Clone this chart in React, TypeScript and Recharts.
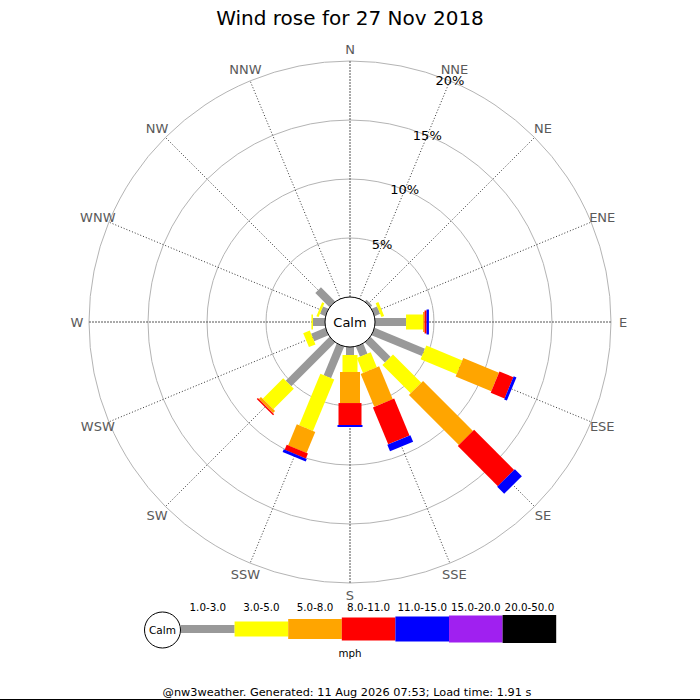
import React from 'react';
import { RadarChart, Radar, PolarGrid, PolarAngleAxis, PolarRadiusAxis } from 'recharts';

// ---- data ----
const directions = ['N', 'NNE', 'NE', 'ENE', 'E', 'ESE', 'SE', 'SSE', 'S', 'SSW', 'SW', 'WSW', 'W', 'WNW', 'NW', 'NNW'];
const speedBins = ['1.0-3.0', '3.0-5.0', '5.0-8.0', '8.0-11.0', '11.0-15.0', '15.0-20.0', '20.0-50.0'];
const binColors = ['#999999', '#ffff00', '#ffa500', '#ff0000', '#0000ff', '#a020f0', '#000000'];

// percentage of time per direction for each speed bin (mph)
const pct1to3 = [0, 0, 0.2, 0.5, 2.63, 4.62, 2.4, 0.93, 0.68, 2.9, 5.25, 1.31, 1.02, 0.5, 1.7, 0];
const pct3to5 = [0, 0, 0, 0.25, 1.44, 3.3, 3.39, 1.36, 1.44, 4.72, 2.46, 0.6, 0.13, 0.2, 0, 0];
const pct5to8 = [0, 0, 0, 0, 0.13, 3.27, 5.99, 3.02, 2.63, 1.93, 0.24, 0, 0, 0, 0, 0];
const pct8to11 = [0, 0, 0, 0, 0.17, 1.27, 4.8, 3.39, 1.86, 0.45, 0.13, 0, 0, 0, 0, 0];
const pct11to15 = [0, 0, 0, 0, 0.2, 0.25, 0.84, 0.6, 0.17, 0.24, 0, 0, 0, 0, 0, 0];
const pct15to20 = [0, 0, 0, 0, 0, 0, 0, 0, 0, 0, 0, 0, 0, 0, 0, 0];
const pct20to50 = [0, 0, 0, 0, 0, 0, 0, 0, 0, 0, 0, 0, 0, 0, 0, 0];
const binSeries = [pct1to3, pct3to5, pct5to8, pct8to11, pct11to15, pct15to20, pct20to50];

const radiusTicks = [5, 10, 15, 20];
const radiusDomain = [0, 20];

const titleText = 'Wind rose for 27 Nov 2018';
const unitText = 'mph';
const calmText = 'Calm';
const footerText = '@nw3weather. Generated: 11 Aug 2026 07:53; Load time: 1.91 s';

// ---- styles ----
const FONT = '"DejaVu Sans", Verdana, sans-serif';
const binWidths = [8, 15, 20, 23, 25, 27, 28];
const W = 700;
const H = 700;
const CX = 350;
const CY = 322;
const INNER = 25;
const OUTER = 261;

const tableData = directions.map((dir, i) => {
  const row: any = { dir, zero: 0 };
  let acc = 0;
  binSeries.forEach((vals, k) => {
    const lo = acc;
    acc += vals[i];
    row['b' + k] = [lo, acc];
  });
  return row;
});

const stepAngle = 360 / directions.length;
const minorAngles = directions.map((_, i) => 90 - i * stepAngle).filter((_, i) => i % 4 !== 0);
const majorAngles = directions.map((_, i) => 90 - i * stepAngle).filter((_, i) => i % 4 === 0);

const makeBarShape = (width: number, color: string) => (props: any) => {
  const pts: any[] = props.points || [];
  const base: any[] = props.baseLinePoints || [];
  return (
    <g>
      {pts.map((p, i) => {
        const b = base[i];
        const r0 = b && b.radius != null ? b.radius : INNER;
        const r1 = p.radius;
        if (r1 == null || !(r1 - r0 > 0.05)) return null;
        const a = (p.angle * Math.PI) / 180;
        const ux = Math.cos(a);
        const uy = -Math.sin(a);
        const vx = Math.sin(a);
        const vy = Math.cos(a);
        const h = width / 2;
        const c = [
          [p.cx + ux * r0 + vx * h, p.cy + uy * r0 + vy * h],
          [p.cx + ux * r1 + vx * h, p.cy + uy * r1 + vy * h],
          [p.cx + ux * r1 - vx * h, p.cy + uy * r1 - vy * h],
          [p.cx + ux * r0 - vx * h, p.cy + uy * r0 - vy * h],
        ];
        return <polygon key={i} points={c.map((q) => q.join(',')).join(' ')} fill={color} stroke="none" />;
      })}
    </g>
  );
};

const calmShape = (props: any) => {
  const pts: any[] = props.points || [];
  if (!pts.length) return <g />;
  const p = pts[0];
  return (
    <g>
      <circle cx={p.cx} cy={p.cy} r={p.radius} fill="#ffffff" stroke="#000000" strokeWidth={1} />
      <text x={p.cx} y={p.cy} textAnchor="middle" dominantBaseline="central" fontSize={13} fontFamily={FONT} fill="#000">
        {calmText}
      </text>
    </g>
  );
};

const angleTick = (props: any) => {
  const { x, y, payload } = props;
  return (
    <text x={x} y={y} textAnchor="middle" dominantBaseline="central" fontSize={13} fontFamily={FONT} fill="#5a5a5a">
      {payload.value}
    </text>
  );
};

const radiusTick = (props: any) => {
  const { x, y, payload } = props;
  return (
    <text x={x} y={y} textAnchor="middle" dominantBaseline="central" fontSize={13} fontFamily={FONT} fill="#000000">
      {payload.value + '%'}
    </text>
  );
};

const LEG_X = 181;
const LEG_BOX = 53.6;
const LEG_CY = 629;

export default function App() {
  return (
    <div style={{ position: 'absolute', left: 0, top: 0, width: W, height: H, background: '#ffffff' }}>
      <RadarChart
        width={W}
        height={H}
        data={tableData}
        cx={CX}
        cy={CY}
        innerRadius={INNER}
        outerRadius={OUTER}
        margin={{ top: 0, right: 0, bottom: 0, left: 0 }}
        style={{ position: 'absolute', left: 0, top: 0 }}
      >
        <PolarGrid gridType="circle" radialLines={false} stroke="#b4b4b4" strokeWidth={1} />
        <PolarGrid gridType="circle" polarRadius={[]} polarAngles={minorAngles} stroke="#333333" strokeDasharray="1 2" strokeWidth={1} />
        <PolarGrid gridType="circle" polarRadius={[]} polarAngles={majorAngles} stroke="#555555" strokeDasharray="2 1" strokeWidth={1} />
        <PolarAngleAxis dataKey="dir" tick={angleTick} tickLine={false} axisLine={false} tickSize={12} />
        <PolarRadiusAxis
          angle={67.5}
          type="number"
          domain={radiusDomain}
          ticks={radiusTicks}
          tick={radiusTick}
          axisLine={false}
          tickLine={false}
        />
        {speedBins.map((bin, k) => (
          <Radar
            key={bin}
            name={bin}
            dataKey={'b' + k}
            isAnimationActive={false}
            dot={false}
            activeDot={false}
            legendType="none"
            shape={makeBarShape(binWidths[k], binColors[k])}
          />
        ))}
        <Radar
          dataKey="zero"
          isAnimationActive={false}
          dot={false}
          activeDot={false}
          legendType="none"
          shape={calmShape}
        />
      </RadarChart>
      <svg width={W} height={H} style={{ position: 'absolute', left: 0, top: 0, pointerEvents: 'none' }}>
        <text x={350} y={25} textAnchor="middle" fontSize={20} fontFamily={FONT} fill="#000">
          {titleText}
        </text>
        <circle cx={162.5} cy={630} r={18} fill="#fff" stroke="#000" strokeWidth={1} />
        <text x={162.5} y={630} textAnchor="middle" dominantBaseline="central" fontSize={10.5} fontFamily={FONT} fill="#000">
          {calmText}
        </text>
        {speedBins.map((bin, k) => (
          <g key={bin}>
            <rect
              x={LEG_X + k * LEG_BOX}
              y={LEG_CY - binWidths[k] / 2}
              width={LEG_BOX}
              height={binWidths[k]}
              fill={binColors[k]}
            />
            <text
              x={LEG_X + k * LEG_BOX + LEG_BOX / 2}
              y={611}
              textAnchor="middle"
              fontSize={10.3}
              fontFamily={FONT}
              fill="#000"
            >
              {bin}
            </text>
          </g>
        ))}
        <text x={350} y={657} textAnchor="middle" fontSize={10.3} fontFamily={FONT} fill="#000">
          {unitText}
        </text>
        <text x={347} y={696} textAnchor="middle" fontSize={11.3} fontFamily={FONT} fill="#000">
          {footerText}
        </text>
        <line x1={0} y1={699.5} x2={700} y2={699.5} stroke="#000" strokeWidth={1} />
      </svg>
    </div>
  );
}
